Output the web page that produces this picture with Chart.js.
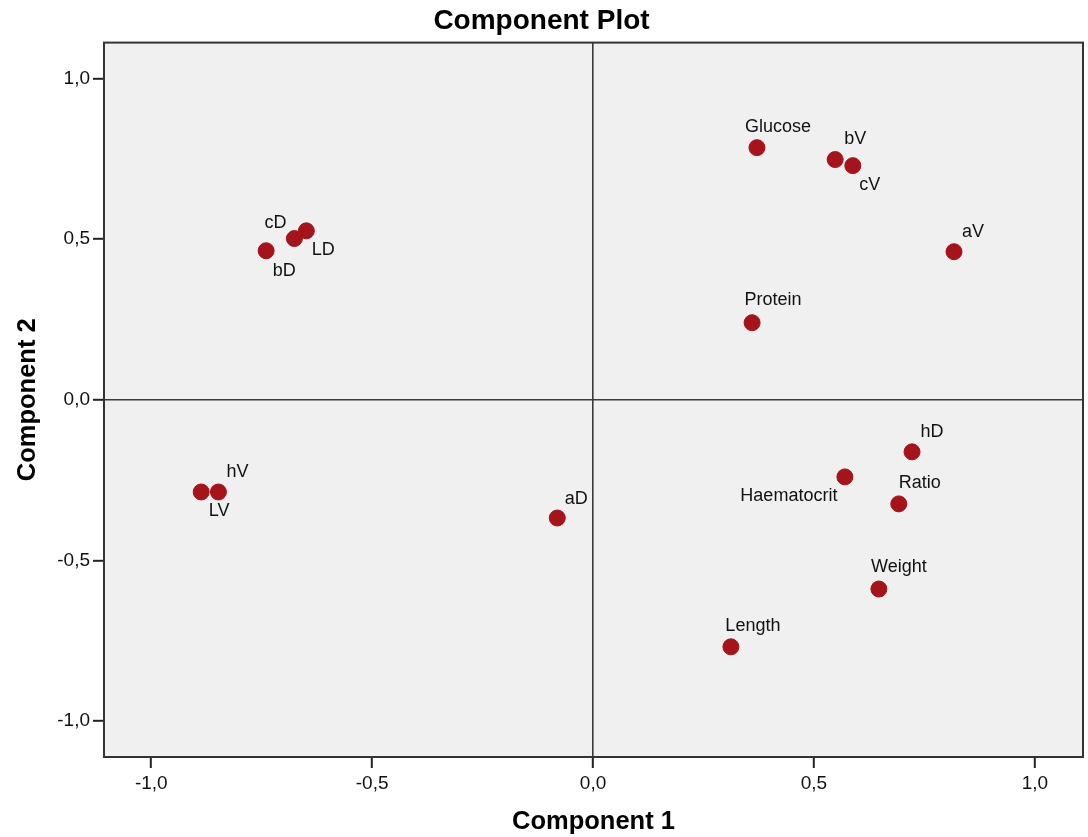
<!DOCTYPE html>
<html>
<head>
<meta charset="utf-8">
<title>Component Plot</title>
<script src="https://cdn.jsdelivr.net/npm/chart.js@4.4.1/dist/chart.umd.min.js"></script>
<style>
  html, body { margin: 0; padding: 0; background: #ffffff; }
  #wrap { width: 1088px; height: 837px; position: relative; }
</style>
</head>
<body>
<div id="wrap"><canvas id="componentPlot"></canvas></div>
<script>
// Component loadings
const varNames = ['Glucose', 'bV', 'cV', 'aV', 'Protein', 'cD', 'LD', 'bD',
                  'hV', 'LV', 'aD', 'hD', 'Haematocrit', 'Ratio', 'Weight', 'Length'];
const comp1 = [0.371, 0.548, 0.588, 0.817, 0.360, -0.676, -0.649, -0.740,
               -0.848, -0.887, -0.081, 0.722, 0.570, 0.692, 0.647, 0.312];
const comp2 = [0.785, 0.748, 0.729, 0.461, 0.240, 0.502, 0.526, 0.464,
               -0.287, -0.287, -0.368, -0.162, -0.240, -0.324, -0.589, -0.769];
const axisTicks = [-1.0, -0.5, 0.0, 0.5, 1.0];

// where each point label sits relative to its marker (px)
const labelOffsets = {
    Glucose: [21, -21], bV: [20, -20], cV: [17, 19], aV: [19, -20],
    Protein: [21, -23], cD: [-19, -16], LD: [17, 19], bD: [18, 20],
    hV: [19, -20], LV: [18, 19], aD: [19, -19], hD: [20, -20],
    Haematocrit: [-56, 19], Ratio: [21, -21], Weight: [20, -22], Length: [22, -21]
};

const FONT = "'Liberation Sans', Arial, sans-serif";
const pointColor = '#a5141a';

const points = varNames.map((n, i) => ({ x: comp1[i], y: comp2[i], name: n }));

// light grey plot panel + dark frame
const panelPlugin = {
    id: 'panel',
    beforeDraw(chart) {
        const { ctx, chartArea: a } = chart;
        ctx.save();
        ctx.fillStyle = '#f0f0f0';
        ctx.fillRect(a.left, a.top, a.right - a.left, a.bottom - a.top);
        ctx.restore();
    },
    afterDraw(chart) {
        const { ctx, chartArea: a } = chart;
        ctx.save();
        ctx.strokeStyle = '#333333';
        ctx.lineWidth = 2;
        ctx.strokeRect(a.left, a.top, a.right - a.left, a.bottom - a.top);
        ctx.restore();
    }
};

// variable names next to each marker
const pointLabels = {
    id: 'pointLabels',
    afterDatasetsDraw(chart) {
        const { ctx } = chart;
        const meta = chart.getDatasetMeta(0);
        ctx.save();
        ctx.font = '18px ' + FONT;
        ctx.fillStyle = '#111111';
        ctx.textAlign = 'center';
        ctx.textBaseline = 'middle';
        meta.data.forEach((el, i) => {
            const name = points[i].name;
            const off = labelOffsets[name] || [18, -18];
            ctx.fillText(name, el.x + off[0], el.y + off[1]);
        });
        ctx.restore();
    }
};

const fmt = v => v.toFixed(1).replace('.', ',');

new Chart(document.getElementById('componentPlot').getContext('2d'), {
    type: 'scatter',
    data: {
        datasets: [{
            label: 'Components',
            data: points,
            backgroundColor: pointColor,
            borderColor: pointColor,
            borderWidth: 1,
            pointRadius: 8,
            pointHoverRadius: 8
        }]
    },
    options: {
        responsive: true,
        maintainAspectRatio: false,
        animation: false,
        layout: { autoPadding: false, padding: { top: 0, right: 5, bottom: 0, left: 0 } },
        plugins: {
            legend: { display: false },
            tooltip: { enabled: false },
            title: {
                display: true,
                text: 'Component Plot',
                color: '#000000',
                font: { family: FONT, size: 28, weight: 'bold' },
                padding: { top: 4, bottom: 5 }
            }
        },
        scales: {
            x: {
                type: 'linear',
                min: -1.107,
                max: 1.109,
                afterFit(scale) {
                    scale.height = 80;
                    scale.paddingLeft = 0;
                    scale.paddingRight = 0;
                },
                afterBuildTicks(scale) { scale.ticks = axisTicks.map(v => ({ value: v })); },
                ticks: {
                    includeBounds: false,
                    color: '#111111',
                    font: { family: FONT, size: 19 },
                    padding: 4,
                    callback: fmt
                },
                grid: {
                    drawOnChartArea: true,
                    color: c => (c.tick && c.tick.value === 0 ? '#3a3a3a' : 'rgba(0,0,0,0)'),
                    lineWidth: 1.6,
                    tickColor: '#222222',
                    tickWidth: 2,
                    tickLength: 11
                },
                border: { display: false },
                title: {
                    display: true,
                    text: 'Component 1',
                    color: '#000000',
                    font: { family: FONT, size: 25.5, weight: 'bold' },
                    padding: { top: 0, bottom: 0 }
                }
            },
            y: {
                type: 'linear',
                min: -1.112,
                max: 1.112,
                afterFit(scale) {
                    scale.width = 104;
                    scale.paddingTop = 0;
                    scale.paddingBottom = 0;
                },
                afterBuildTicks(scale) { scale.ticks = axisTicks.map(v => ({ value: v })); },
                ticks: {
                    includeBounds: false,
                    color: '#111111',
                    font: { family: FONT, size: 19 },
                    padding: 3,
                    callback: fmt
                },
                grid: {
                    drawOnChartArea: true,
                    color: c => (c.tick && c.tick.value === 0 ? '#3a3a3a' : 'rgba(0,0,0,0)'),
                    lineWidth: 1.6,
                    tickColor: '#222222',
                    tickWidth: 2,
                    tickLength: 11
                },
                border: { display: false },
                title: {
                    display: true,
                    text: 'Component 2',
                    color: '#000000',
                    font: { family: FONT, size: 25.5, weight: 'bold' },
                    padding: { top: 13, bottom: 0 }
                }
            }
        }
    },
    plugins: [panelPlugin, pointLabels]
});
</script>
</body>
</html>
